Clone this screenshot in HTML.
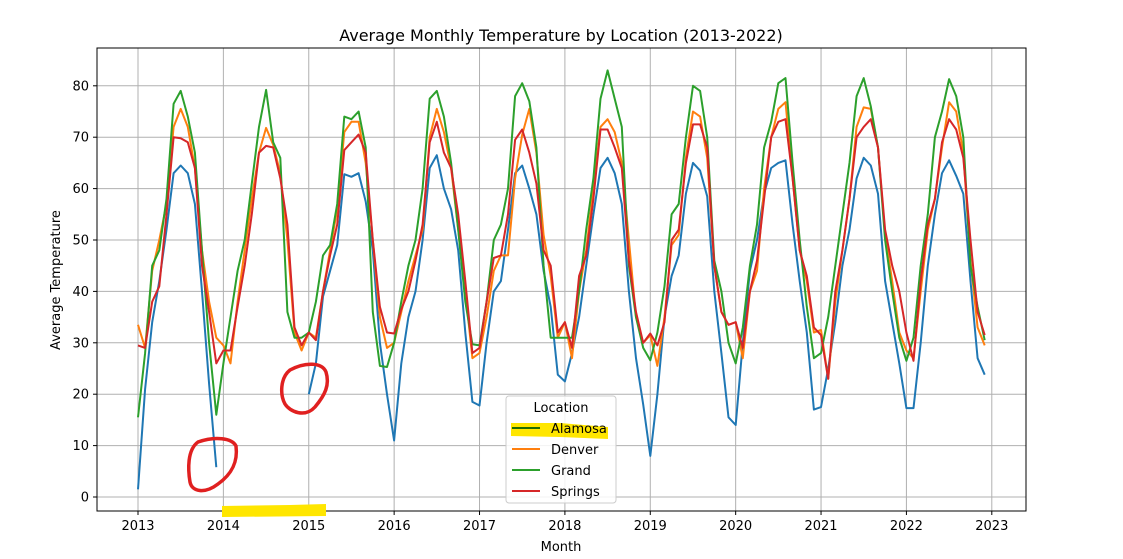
<!DOCTYPE html>
<html><head><meta charset="utf-8"><style>
body{margin:0;background:#fff;font-family:"Liberation Sans","DejaVu Sans",sans-serif;}
svg text{font-family:"DejaVu Sans","Liberation Sans",sans-serif;}
</style></head><body>
<svg id="chart" width="1123" height="554" viewBox="0 0 1123 554" xmlns="http://www.w3.org/2000/svg">
<rect width="1123" height="554" fill="#fff"/>
<g id="grid"></g>
<g id="series"></g>
<rect x="97" y="48" width="929" height="463" fill="none" stroke="#000" stroke-width="1"/>
<g id="axes"></g>
<text x="561" y="41" text-anchor="middle" font-size="16">Average Monthly Temperature by Location (2013-2022)</text>
<text x="561" y="551" text-anchor="middle" font-size="13">Month</text>
<text transform="translate(60,280) rotate(-90)" text-anchor="middle" font-size="13">Average Temperature</text>
<path d="M222,506 L290,505 L326,504 L326,516 L222,517 Z" fill="#ffe600"/>
<path d="M198,442 C215,436 232,438 236,446 C238,462 232,474 218,484 C205,494 192,492 190,482 C188,470 187,450 198,442 Z" fill="none" stroke="#e02020" stroke-width="3.5"/>
<path d="M290,370 C305,362 322,362 326,372 C330,385 325,395 315,407 C305,418 290,412 285,404 C280,395 280,378 290,370 Z" fill="none" stroke="#e02020" stroke-width="3.5"/>
<g id="legend">
<rect x="506" y="396" width="110" height="107" rx="3" fill="#fff" fill-opacity="0.85" stroke="#ccc"/>
<text x="561" y="412" text-anchor="middle" font-size="13">Location</text>
</g>
<path d="M511,423 L560,423 L608,427 L608,439 L560,437 L511,436 Z" fill="#ffe600" style="mix-blend-mode:multiply"/>
</svg>
<script>
const years=[2013,2014,2015,2016,2017,2018,2019,2020,2021,2022,2023];
const yTicks=[0,10,20,30,40,50,60,70,80];
const names=["Alamosa","Denver","Grand","Springs"];
const colors=["#1f77b4","#ff7f0e","#2ca02c","#d62728"];
const alamosa=[1.5,21,34,42,52,63,64.5,63,57,40,22,5.8,
null,null,null,null,null,null,null,null,null,null,null,null,
20,26,39,44,49,62.8,62.3,63,57.5,48,30,20,
11,26,35,40,50,64,66.5,60,56,48,32,18.5,
17.8,30,40,42,52,63,64.5,60,55,44,37,23.8,
22.5,28,35,45,55,64,66,63,57,40,27,18,
8,20,35,43,47,59,65,63.5,58.5,40,28,15.5,
14,30,44,50,59,64,65,65.5,53,42,32,17,
17.5,25,34,45,52,62,66,64.5,59,42,34,26,
17.3,17.3,30,45,55,63,65.5,62.5,59,42,27,23.8];
const denver=[33.5,29,44,50,57,72,75.5,72,64,48,38,31,
29.5,26,38,48,58,67,71.8,68.5,63,50,32,28.5,
32,31,40,48,56,71,73,73,65,50,35,29,
30,36,42,47,52,70,75.5,71,64,52,40,27,
28,35,44,47,47,62,70.5,75.5,67,51,43,31,
34,27,40,48,60,72,73.5,71,65,50,35,30,
31.5,25.5,35,49,51,66,75,74,66,45,36,33.5,
34,27,40,44,60,70,75.5,76.8,62,48,42,32,
32.5,23,38,48,58,72,75.8,75.5,68,51,42,32,
28.5,27,40,52,58,68,76.8,75,67,46,33,29.5];
const grand=[15.5,28,45,48,58,76.5,79,74,67,48,30,16,
26,35,44,50,61,72,79.2,69,66,36,31,31,
32,38,47,49,57,74,73.5,75,68,36,25.5,25.3,
30,38,45,50,60,77.5,79,74,65,52,38,29.7,
29.5,38,50,53,60,78,80.5,77,68,45,31,31,
31,31,40,52,62,77.5,83,77.5,72,45,35,29,
26.6,32,41,55,57,70,80,79,70,46,40,30,
26,33,45,53,68,73,80.5,81.5,65,50,37,27,
28,35,45,55,65,78,81.5,76,68,50,40,31,
26.5,31,45,55,70,75,81.3,78,70,45,37,30.5];
const springs=[29.5,29,38,41,55,70,69.8,69,64,45,36,26,
28.5,28.5,37,45,55,67,68.3,68,62,53,33,29.5,
32,30.5,40,47,53,67.5,69,70.5,67,50,37,32,
31.8,36.5,40,46,53,69,73,67,64,55,42,28,
29,38,46.5,47,55,69.5,71.5,67,61,48,45,32,
34,29,43,47,58,71.5,71.5,68,64,46,36,30,
31.8,29.5,34,50,52,65,72.5,72.5,68,45,36,33.5,
34,29,40,46,58,70,73,73.5,62,48,43,33,
31.5,23,40,48,58,70,72,73.5,68,52,45,40,
32,26.5,42,53,58,69,73.5,71.5,66,50,36,31.5];
const seriesData=[alamosa,denver,grand,springs];
const NS="http://www.w3.org/2000/svg";
function x(t){return 138+(t-2013)*85.38;}
function y(v){return 497-v*5.14;}
function mk(tag,attrs,parent){const e=document.createElementNS(NS,tag);for(const k in attrs)e.setAttribute(k,attrs[k]);parent.appendChild(e);return e;}
const grid=document.getElementById('grid'),axes=document.getElementById('axes'),ser=document.getElementById('series');
years.forEach(yr=>{
 const l=mk('line',{x1:x(yr),x2:x(yr),y1:48,y2:511,stroke:'#b0b0b0','stroke-width':1},grid);
 
 
 mk('line',{x1:x(yr),x2:x(yr),y1:511,y2:515,stroke:'#000'},axes);
 const t=mk('text',{x:x(yr),y:530,'text-anchor':'middle','font-size':13},axes);
 t.textContent=yr;
 
 
});
yTicks.forEach(v=>{
 const l=mk('line',{x1:97,x2:1026,y1:y(v),y2:y(v),stroke:'#b0b0b0','stroke-width':1},grid);
 
 
 mk('line',{x1:93,x2:97,y1:y(v),y2:y(v),stroke:'#000'},axes);
 const t=mk('text',{x:89,y:y(v)+4.5,'text-anchor':'end','font-size':13},axes);
 t.textContent=v;
 
 
});
seriesData.forEach((arr,si)=>{
 let d='',pen=false;
 arr.forEach((v,i)=>{
  if(v===null){pen=false;return;}
  const px=x(2013+i/12),py=y(v);
  d+=(pen?'L':'M')+px.toFixed(1)+','+py.toFixed(1);pen=true;
 });
 const p=mk('path',{d:d,fill:'none',stroke:colors[si],'stroke-width':2,'stroke-linejoin':'round'},ser);
 
 
});
const lg=document.getElementById('legend');
names.forEach((n,i)=>{
 const yy=428+i*21;
 const g=mk('g',{},lg);
 
 
 mk('line',{x1:512,x2:540,y1:yy,y2:yy,stroke:colors[i],'stroke-width':2},g);
 const t=mk('text',{x:551,y:yy+5,'font-size':13},g);
 t.textContent=n;
});
</script>
</body></html>
